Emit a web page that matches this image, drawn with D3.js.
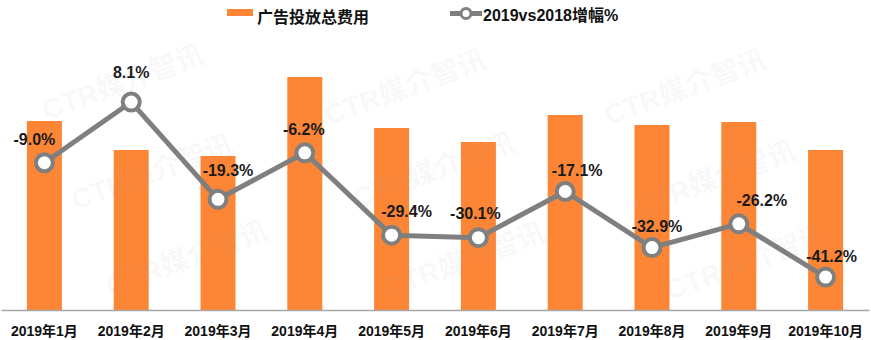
<!DOCTYPE html>
<html><head><meta charset="utf-8">
<script src="https://cdn.jsdelivr.net/npm/d3@7/dist/d3.min.js"></script>
<style>
html,body{margin:0;padding:0;background:#fff;}
svg{display:block;}
</style></head>
<body>
<svg id="chart" width="871" height="340"></svg>
<script>
// ---- data ----
const categories = ["2019年1月","2019年2月","2019年3月","2019年4月","2019年5月","2019年6月","2019年7月","2019年8月","2019年9月","2019年10月"];
const spendValues = [189,160,154,233,182,168,195,185,188,160];          // 广告投放总费用 (relative index)
const growthValues = [-9.0,8.1,-19.3,-6.2,-29.4,-30.1,-17.1,-32.9,-26.2,-41.2]; // 2019vs2018增幅%
const seriesNames = ["广告投放总费用","2019vs2018增幅%"];
// label nudges (layout only)
const labelDx = [-10,0,10,-1,15,-3,12,5,23,6];
const labelDy = [-24,-30,-29,-24,-24,-24,-21,-21,-24,-21];

const W = 871, H = 340;
const baseY = 310;
const FONT = "'Liberation Sans','Arial','Noto Sans CJK SC',sans-serif";
const svg = d3.select("#chart");

const x = d3.scaleBand().domain(categories).range([1, 869]).paddingInner(0.6).paddingOuter(0.3);
const yBar = d3.scaleLinear().domain([0, 250]).range([baseY, 60]);
const yLine = d3.scaleLinear().domain([-50, 20]).range([308.3, 59.8]);
const cx = d => x(d) + x.bandwidth() / 2;

// bars
svg.append("g").selectAll("rect").data(categories).join("rect")
  .attr("x", d => cx(d) - 17.5)
  .attr("width", 35)
  .attr("y", (d,i) => yBar(spendValues[i]))
  .attr("height", (d,i) => baseY - yBar(spendValues[i]))
  .attr("fill", "#fd8636");

// x axis
const axis = svg.append("g").attr("transform", `translate(0,${baseY})`)
  .call(d3.axisBottom(x).tickSize(0).tickSizeOuter(0));
axis.select(".domain").attr("stroke", "#a6a6a6").attr("stroke-width", 1.5);
axis.selectAll("text").attr("y", 26).attr("dy", 0)
  .attr("font-family", FONT).attr("font-size", 14).attr("font-weight", "bold").attr("fill", "#111");

// line
const line = d3.line().x((d,i) => cx(categories[i])).y(d => yLine(d));
svg.append("path").datum(growthValues).attr("d", line)
  .attr("fill", "none").attr("stroke", "#7f7f7f").attr("stroke-width", 5).attr("stroke-linejoin", "round");
svg.append("g").selectAll("circle").data(growthValues).join("circle")
  .attr("cx", (d,i) => cx(categories[i])).attr("cy", d => yLine(d)).attr("r", 8.5)
  .attr("fill", "#fff").attr("stroke", "#7f7f7f").attr("stroke-width", 4);

// data labels
svg.append("g").selectAll("text").data(growthValues).join("text")
  .attr("x", (d,i) => cx(categories[i]) + labelDx[i])
  .attr("y", (d,i) => yLine(d) + labelDy[i])
  .attr("dy", "0.36em")
  .attr("text-anchor", "middle")
  .attr("font-family", FONT).attr("font-size", 16).attr("font-weight", "bold").attr("fill", "#1a1a1a")
  .text(d => d.toFixed(1) + "%");

// watermarks
const wm = [[123,82],[152,172],[187,258],[405,87],[434,170],[464,260],[685,87],[715,178],[746,262]];
svg.append("g").selectAll("text").data(wm).join("text")
  .attr("transform", d => `translate(${d[0]},${d[1]}) rotate(-20)`)
  .attr("text-anchor", "middle").attr("dy", "0.35em")
  .attr("font-family", FONT).attr("font-size", 28).attr("font-weight", "bold")
  .attr("fill", "#999").attr("fill-opacity", 0.07)
  .text("CTR媒介智讯");

// legend
const lg = svg.append("g");
lg.append("rect").attr("x", 227).attr("y", 9).attr("width", 26).attr("height", 7).attr("fill", "#fd8636");
lg.append("text").attr("x", 257).attr("y", 23).text(seriesNames[0])
  .attr("font-family", FONT).attr("font-size", 16).attr("font-weight", "bold").attr("fill", "#111");
lg.append("line").attr("x1", 450).attr("x2", 482).attr("y1", 13.5).attr("y2", 13.5)
  .attr("stroke", "#7f7f7f").attr("stroke-width", 5);
lg.append("circle").attr("cx", 466).attr("cy", 13.5).attr("r", 5)
  .attr("fill", "#fff").attr("stroke", "#7f7f7f").attr("stroke-width", 3);
lg.append("text").attr("x", 483).attr("y", 21).text(seriesNames[1])
  .attr("font-family", FONT).attr("font-size", 16).attr("font-weight", "bold").attr("fill", "#111");
</script>
</body></html>
